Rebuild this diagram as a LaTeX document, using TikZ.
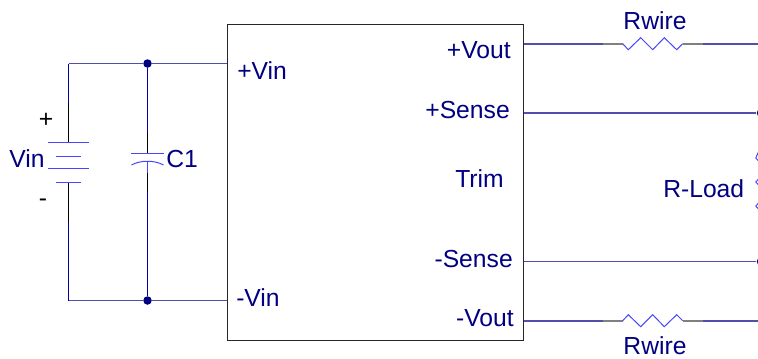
\documentclass[tikz,border=0pt]{standalone}
\usepackage{fontspec}
\setmainfont{Liberation Sans}
\usepackage[svgnames]{xcolor}
\usetikzlibrary{positioning, calc}
\definecolor{labelblue}{RGB}{0,0,128}
\definecolor{wireblue}{RGB}{80,80,170}
\definecolor{leadblue}{RGB}{0,0,170}
\definecolor{partblue}{RGB}{70,70,250}
\def\raster{0.75pt}
\tikzset{
    label text/.style={text=labelblue, inner sep=0, font=\fontsize{18.5}{20}\selectfont},
    wire/.style={wireblue, line width=1.2pt},
    lead/.style={leadblue, line width=0.75pt},
    stub/.style={black, line width=0.75pt},
    greystub/.style={gray, line width=1.2pt},
    part/.style={partblue, line width=0.75pt},
    junction/.style={circle, fill=labelblue, inner sep=0, minimum size=8.5*\raster}
}
\begin{document}
\begin{tikzpicture}[x=\raster, y=-\raster]
    \useasboundingbox (0,0) rectangle (758,358);

    % converter block
    \node[draw=black!85, line width=0.7pt, minimum width=296.5*\raster, minimum height=316*\raster, inner sep=0] (conv) at (375.25,182) {};

    % points on the block edge
    \coordinate (inp) at (conv.west |- 0,63.5);
    \coordinate (inn) at (conv.west |- 0,300.5);
    \coordinate (voutp) at (conv.east |- 0,43.7);
    \coordinate (sensep) at (conv.east |- 0,113);
    \coordinate (sensen) at (conv.east |- 0,261.5);
    \coordinate (voutn) at (conv.east |- 0,320.7);

    % input side
    \coordinate (cornertop) at (68.5,63.5);
    \coordinate (cornerbot) at (68.5,300.5);
    \node[junction] (jtop) at (147.5,63.5) {};
    \node[junction] (jbot) at (147.5,300.5) {};

    \draw[wire] (cornertop) -- (jtop);
    \draw[wire] (jtop) -- (inp);
    \draw[wire] (cornerbot) -- (jbot);
    \draw[wire] (jbot) -- (inn);

    % battery
    \coordinate (battop) at (68.5,142.7);
    \coordinate (batbot) at (68.5,182);
    \coordinate (battopstub) at (68.5,103);
    \coordinate (batbotstub) at (68.5,222);
    \draw[lead] (cornertop) -- (battopstub);
    \draw[stub] (battopstub) -- (battop);
    \draw[stub] (batbot) -- (batbotstub);
    \draw[lead] (batbotstub) -- (cornerbot);
    \foreach \y/\half in {142.7/20.5, 156.7/12.5, 168/20.5, 182/12.5}
    {
        \draw[part] (68.5-\half,\y) -- (68.5+\half,\y);
    }

    % capacitor
    \coordinate (captop) at (147.5,153);
    \coordinate (capbot) at (147.5,160.7);
    \draw[lead] (jtop) -- (147.5,133);
    \draw[stub] (147.5,133) -- (captop);
    \draw[part] (131,153) -- (164,153);
    \draw[part] (131.5,165) .. controls (140,160) and (155,160) .. (163.5,165);
    \draw[part] (capbot) -- (147.5,173);
    \draw[stub] (147.5,173) -- (147.5,192);
    \draw[lead] (147.5,192) -- (jbot);

    % the rest is cut off by the picture edge
    \begin{scope}
    \clip (0,0) rectangle (758,358);

    % output wires
    \node[junction] (jsensep) at (761,113) {};
    \node[junction] (jsensen) at (761,261.5) {};
    \draw[wire] (sensep) -- (jsensep);
    \draw[wire] (sensen) -- (jsensen);

    % load resistor
    \draw[part] (761,146) -- (755.8,158) -- (767,170) -- (755.8,182) -- (767,194) -- (755.8,206) -- (761,212);
    \end{scope}

    % the two wire resistors
    \foreach \name/\ym/\s in {voutp/43.7/1, voutn/320.7/-1}
    {
        \coordinate (\name a) at (602.5,\ym);
        \coordinate (\name b) at (622.7,\ym);
        \coordinate (\name c) at (682.7,\ym);
        \coordinate (\name d) at (703,\ym);
        \coordinate (\name e) at (758,\ym);
        \draw[wire] (\name) -- (\name a);
        \draw[greystub] (\name a) -- (\name b);
        \draw[greystub] (\name c) -- (\name d);
        \draw[wire] (\name d) -- (\name e);
        \draw[part] (\name b) -- ++(5.6,6*\s) -- ++(12.4,-12*\s) -- ++(12,12*\s)
            -- ++(11.6,-12*\s) -- ++(12.4,12*\s) -- (\name c);
    }

    % labels
    \node[label text, anchor=base] (rwiretop) at (655,29) {Rwire};
    \node[label text, anchor=base] (rwirebot) at (655,354) {Rwire};
    \node[label text, anchor=base west] (vin) at (9,167) {Vin};
    \node[label text, anchor=base west] (c1) at (166,167) {C1};
    \node[label text, anchor=base west] (pvin) at (237,79) {+Vin};
    \node[label text, anchor=base west] (nvin) at (236,306) {-Vin};
    \node[label text, anchor=base east] (pvout) at (511,58) {+Vout};
    \node[label text, anchor=base east] (psense) at (510,118) {+Sense};
    \node[label text, anchor=base west] (trim) at (455,187) {Trim};
    \node[label text, anchor=base east] (nsense) at (513,267) {-Sense};
    \node[label text, anchor=base east] (nvout) at (514,326) {-Vout};
    \node[label text, anchor=base west] (rload) at (663,197) {R-Load};
    \node[label text, text=black, anchor=base] (plus) at (46,127) {+};
    \node[label text, text=black, anchor=base] (minus) at (43,206) {-};
\end{tikzpicture}
\end{document}
